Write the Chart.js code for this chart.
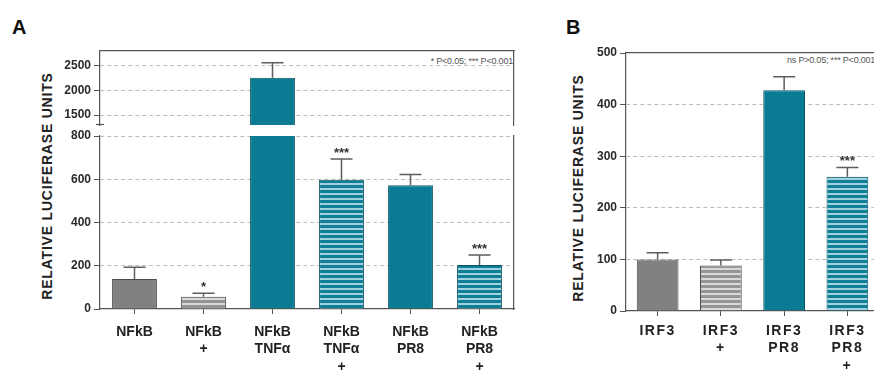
<!DOCTYPE html>
<html>
<head>
<meta charset="utf-8">
<script src="https://cdn.jsdelivr.net/npm/chart.js@4"></script>
<style>
  html, body { margin: 0; padding: 0; background: #fff; overflow: hidden; width: 874px; height: 374px; }
  canvas { position: absolute; left: 0; top: 0; }
  .panel { position: absolute; font: bold 20px "Liberation Sans", Arial, sans-serif; color: #111; }
  .ytitle { position: absolute; font: bold 14px "Liberation Sans", Arial, sans-serif; color: #222; letter-spacing: 0.8px;
            transform: translate(-50%, -50%) rotate(-90deg); white-space: nowrap; }
  .note { position: absolute; font: 9px "Liberation Sans", Arial, sans-serif; color: #555; white-space: nowrap; letter-spacing: -0.2px; }
</style>
</head>
<body>
<div class="panel" style="left:12px;top:16px">A</div>
<div class="panel" style="left:566px;top:16px">B</div>
<div class="ytitle" style="left:47px;top:186px">RELATIVE LUCIFERASE UNITS</div>
<div class="ytitle" style="left:578px;top:188px">RELATIVE LUCIFERASE UNITS</div>
<div class="note" style="right:361px;top:56px">* P&lt;0.05; *** P&lt;0.001</div>
<div class="note" style="left:787px;top:55px">ns P&gt;0.05; *** P&lt;0.001</div>
<canvas id="aTop" width="874" height="374"></canvas>
<canvas id="aBottom" width="874" height="374"></canvas>
<canvas id="b" width="900" height="374"></canvas>
<script>
// panel A: NFkB reporter
const nfkbLabels = [['NFkB'], ['NFkB', '+'], ['NFkB', 'TNFα'], ['NFkB', 'TNFα', '+'], ['NFkB', 'PR8'], ['NFkB', 'PR8', '+']];
const nfkbValues = [139, 57, 2260, 598, 572, 204];
const nfkbErrors = [54, 16, 300, 96, 50, 46];
const nfkbStars = ['', '*', '', '***', '', '***'];
const nfkbLowTicks = [0, 200, 400, 600, 800];
const nfkbHighTicks = [1500, 2000, 2500];

// panel B: IRF3 reporter
const irf3Labels = [['IRF3'], ['IRF3', '+'], ['IRF3', 'PR8'], ['IRF3', 'PR8', '+']];
const irf3Values = [100, 88, 428, 260];
const irf3Errors = [13, 11, 26, 18];
const irf3Stars = ['', '', '', '***'];
const irf3Ticks = [0, 100, 200, 300, 400, 500];

const FONT = '"Liberation Sans", Arial, sans-serif';
const AXIS = '#555';
const GRID = '#bdbdbd';

function stripes(base, line) {
  const c = document.createElement('canvas');
  c.width = 4; c.height = 5;
  const g = c.getContext('2d');
  g.fillStyle = base; g.fillRect(0, 0, 4, 5);
  g.fillStyle = line; g.fillRect(0, 3, 4, 2);
  return g.createPattern(c, 'repeat');
}

const gray = '#818181', teal = '#0a7b93';
const grayStripe = stripes('#959595', '#dadada');
const tealStripe = stripes('#0f7f97', '#9fd2de');
const nfkbFill = [gray, grayStripe, teal, tealStripe, teal, tealStripe];
const nfkbBorder = ['#4d4d4d', '#4d4d4d', '#0c5363', '#0c5363', '#0c5363', '#0c5363'];
const irf3Fill = [gray, grayStripe, teal, tealStripe];
const irf3Border = ['#4d4d4d', '#4d4d4d', '#0c5363', '#0c5363'];

const errorBars = {
  id: 'errorBars',
  afterDatasetsDraw(chart, args, opts) {
    const { ctx, scales: { y } } = chart;
    const meta = chart.getDatasetMeta(0);
    ctx.save();
    ctx.strokeStyle = '#5e5e5e';
    ctx.lineWidth = 1.5;
    ctx.fillStyle = '#333';
    ctx.font = 'bold 13px ' + FONT;
    ctx.textAlign = 'center';
    ctx.textBaseline = 'middle';
    meta.data.forEach((bar, i) => {
      const v = opts.values[i], e = opts.errors[i];
      if (v < y.min || v + e > y.max) return;
      const top = y.getPixelForValue(v + e);
      ctx.beginPath();
      ctx.moveTo(bar.x, bar.y);
      ctx.lineTo(bar.x, top);
      ctx.moveTo(bar.x - 11, top);
      ctx.lineTo(bar.x + 11, top);
      ctx.stroke();
      if (opts.stars[i]) ctx.fillText(opts.stars[i], bar.x, top - 6);
    });
    if (opts.breakCap) {
      const a = chart.chartArea;
      ctx.beginPath();
      ctx.moveTo(a.left - 4, a.bottom - 0.5);
      ctx.lineTo(a.left + 4, a.bottom - 0.5);
      ctx.strokeStyle = AXIS;
      ctx.lineWidth = 1.2;
      ctx.stroke();
    }
    ctx.restore();
  }
};

function yAxis(ticks, min, max, width) {
  return {
    min: min, max: max,
    afterBuildTicks: s => { s.ticks = ticks.map(v => ({ value: v })); },
    afterFit: s => { s.width = width; },
    grid: {
      color: c => (c.tick && (c.tick.value === 0 || c.tick.value === 500 && max === 500)) ? 'rgba(0,0,0,0)' : GRID,
      tickColor: AXIS, tickLength: 6, lineWidth: 1
    },
    border: { color: AXIS, width: 1.2, dash: [4, 3] },
    ticks: { color: '#2a2a2a', padding: 3, callback: v => String(v), font: { family: FONT, size: 12, weight: 'bold' } }
  };
}

function frame(position) {
  const horizontal = position === 'top';
  return {
    position: position, type: 'linear', display: true,
    ticks: { display: false },
    grid: { display: false, drawTicks: false },
    border: { color: AXIS, width: 1.2 },
    afterFit: s => { if (horizontal) s.height = 0; else s.width = 0; }
  };
}

function xAxis(show, pad, height, spacing) {
  return {
    display: show,
    afterFit: s => {
      s.height = height;
      if (spacing && !s._spaced) {
        const base = s.drawLabels;
        s.drawLabels = function (area) {
          this.ctx.save();
          this.ctx.letterSpacing = spacing;
          base.call(this, area);
          this.ctx.restore();
        };
        s._spaced = true;
      }
    },
    grid: { drawOnChartArea: false, offset: false, tickLength: 5, tickColor: AXIS },
    border: { color: AXIS, width: 1.2 },
    ticks: { color: '#222', padding: pad, font: { family: FONT, size: 14, weight: 'bold', lineHeight: 1.25 } }
  };
}

function barChart(id, labels, values, fills, borders, pct, layout, scales, plugin) {
  return new Chart(document.getElementById(id), {
    type: 'bar',
    data: {
      labels: labels,
      datasets: [{
        data: values,
        backgroundColor: fills,
        borderColor: borders,
        borderWidth: 1,
        categoryPercentage: 1,
        barPercentage: pct,
        clip: 0
      }]
    },
    options: {
      responsive: false,
      animation: false,
      events: [],
      layout: { padding: layout },
      plugins: { legend: { display: false }, tooltip: { enabled: false }, errorBars: plugin },
      scales: scales
    },
    plugins: [errorBars]
  });
}

// A, upper segment of the broken axis
barChart('aTop', nfkbLabels, nfkbValues, nfkbFill, nfkbBorder, 0.65,
  { left: 0, top: 51, right: 360, bottom: 249 },
  { x: xAxis(false, 0, 0), y: yAxis(nfkbHighTicks, 1300, 2800, 100), top: frame('top'), right: frame('right') },
  { values: nfkbValues, errors: nfkbErrors, stars: nfkbStars, breakCap: true });

// A, lower segment
barChart('aBottom', nfkbLabels, nfkbValues, nfkbFill, nfkbBorder, 0.65,
  { left: 0, top: 136, right: 360, bottom: 0 },
  { x: xAxis(true, 9, 65), y: yAxis(nfkbLowTicks, 0, 800, 100), right: frame('right') },
  { values: nfkbValues, errors: nfkbErrors, stars: nfkbStars });

// B
barChart('b', irf3Labels, irf3Values, irf3Fill, irf3Border, 0.66,
  { left: 0, top: 53, right: 21, bottom: 0 },
  { x: xAxis(true, 6, 63, '1.5px'), y: yAxis(irf3Ticks, 0, 500, 626), top: frame('top') },
  { values: irf3Values, errors: irf3Errors, stars: irf3Stars });
</script>
</body>
</html>
